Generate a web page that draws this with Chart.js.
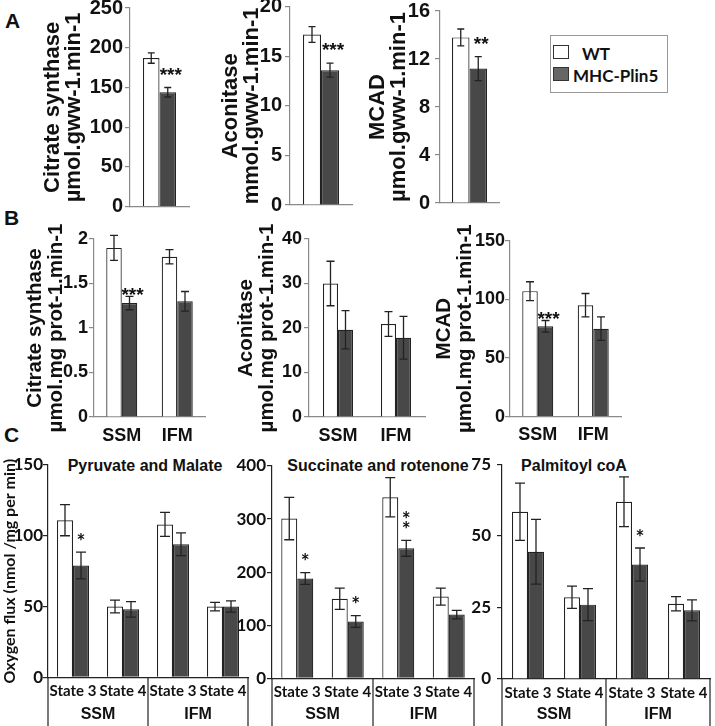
<!DOCTYPE html>
<html>
<head>
<meta charset="utf-8">
<script src="https://cdn.jsdelivr.net/npm/chart.js@4.4.1/dist/chart.umd.min.js"></script>
<style>
  body { margin: 0; background: #fff; }
  #wrap { position: relative; width: 715px; height: 726px; overflow: hidden; background: #fff; }
  #wrap canvas { position: absolute; }
  .txt { position: absolute; font-weight: bold; color: #111; white-space: nowrap; line-height: 1; }
  .panel { font-family: "Liberation Sans", Arial, sans-serif; font-size: 21px; }
  .ctitle { font-family: "Liberation Sans", Arial, sans-serif; font-size: 16px; transform: translate(-50%, -50%); }
  .leg { position: absolute; left: 550px; top: 35px; width: 116px; height: 56px; border: 1px solid #999; }
  .sw { position: absolute; width: 14px; height: 12px; border: 1px solid #333; }
  .legtxt { font-family: Lato, sans-serif; font-size: 17px; transform: translateY(-50%); }
</style>
</head>
<body>
<div id="wrap">
  <div class="txt panel" style="left:5px;top:10px">A</div>
  <div class="txt panel" style="left:4px;top:207px">B</div>
  <div class="txt panel" style="left:4px;top:424px">C</div>

  <div class="leg"></div>
  <div class="sw" style="left:553px;top:45px;background:#fff"></div>
  <div class="sw" style="left:553px;top:67px;background:#666"></div>
  <div class="txt legtxt" id="legWT" style="left:582px;top:53px"></div>
  <div class="txt legtxt" id="legTG" style="left:573px;top:75px"></div>

  <div class="txt ctitle" style="left:145px;top:466px">Pyruvate and Malate</div>
  <div class="txt ctitle" style="left:378px;top:466px">Succinate and rotenone</div>
  <div class="txt ctitle" style="left:574px;top:466px">Palmitoyl coA</div>
</div>

<script>
// series
const seriesNames = ['WT', 'MHC-Plin5'];

// A: activities per g wet weight
const catsA = [''];
const csA_wt = [187], csA_wtErr = [6.5], csA_tg = [144], csA_tgErr = [6], csA_sig = ['***'];
const acoA_wt = [17.2], acoA_wtErr = [0.8], acoA_tg = [13.6], acoA_tgErr = [0.7], acoA_sig = ['***'];
const mcadA_wt = [13.8], mcadA_wtErr = [0.7], mcadA_tg = [11.2], mcadA_tgErr = [1.0], mcadA_sig = ['**'];

// B: activities per mg mito protein
const catsB = ['SSM', 'IFM'];
const csB_wt = [1.90, 1.80], csB_wtErr = [0.14, 0.08], csB_tg = [1.28, 1.30], csB_tgErr = [0.075, 0.11], csB_sig = ['***', ''];
const acoB_wt = [30, 20.9], acoB_wtErr = [5, 2.8], acoB_tg = [19.6, 17.8], acoB_tgErr = [4.3, 4.8], acoB_sig = ['', ''];
const mcadB_wt = [107, 95], mcadB_wtErr = [8, 10], mcadB_tg = [77, 75], mcadB_tgErr = [5, 10], mcadB_sig = ['***', ''];

// C: oxygen flux
const catsC = ['State 3', 'State 4', 'State 3', 'State 4'];
const groupsC = ['SSM', 'IFM'];
const pmC_wt = [111, 50, 108, 50], pmC_wtErr = [11, 4.5, 8.5, 3], pmC_tg = [79, 48, 94, 50], pmC_tgErr = [9.5, 5.5, 8, 4], pmC_sig = ['*', '', '', ''];
const srC_wt = [301, 150, 341, 154], srC_wtErr = [40, 20, 37, 16], srC_tg = [188, 107, 245, 120], srC_tgErr = [11, 11, 15, 8], srC_sig = ['*', '*', '*\n*', ''];
const paC_wt = [58.5, 28.6, 62, 26.3], paC_wtErr = [10, 3.9, 8.7, 2.5], paC_tg = [44.5, 26, 40, 24], paC_tgErr = [11.3, 5.6, 5.8, 3.7], paC_sig = ['', '', '*', ''];

document.getElementById('legWT').textContent = seriesNames[0];
document.getElementById('legTG').textContent = seriesNames[1];

const errorBars = {
  id: 'errorBars',
  afterDatasetsDraw(chart, args, opts) {
    const ctx = chart.ctx, y = chart.scales.y;
    ctx.save();
    ctx.strokeStyle = '#222';
    ctx.lineWidth = 1.3;
    chart.data.datasets.forEach((ds, i) => {
      chart.getDatasetMeta(i).data.forEach((bar, j) => {
        const top = y.getPixelForValue(ds.data[j] + ds.err[j]);
        const bot = y.getPixelForValue(ds.data[j] - ds.err[j]);
        const c = opts.cap;
        ctx.beginPath();
        ctx.moveTo(bar.x, top); ctx.lineTo(bar.x, bot);
        ctx.moveTo(bar.x - c, top); ctx.lineTo(bar.x + c, top);
        ctx.moveTo(bar.x - c, bot); ctx.lineTo(bar.x + c, bot);
        ctx.stroke();
      });
    });
    ctx.restore();
  }
};

const sigMarks = {
  id: 'sigMarks',
  afterDatasetsDraw(chart, args, opts) {
    const ds = chart.data.datasets[1];
    const meta = chart.getDatasetMeta(1);
    const ctx = chart.ctx, y = chart.scales.y;
    ctx.save();
    ctx.fillStyle = '#111';
    ctx.font = opts.font;
    ctx.textAlign = 'center';
    ctx.textBaseline = 'middle';
    ds.sig.forEach((s, j) => {
      if (!s) return;
      const bar = meta.data[j];
      const top = y.getPixelForValue(ds.data[j] + ds.err[j]);
      const lines = s.split('\n');
      lines.forEach((ln, k) => {
        ctx.fillText(ln, bar.x + opts.dx, top - opts.gap - (lines.length - 1 - k) * opts.step);
      });
    });
    ctx.restore();
  }
};

// two-level category axis for panel C
const groupAxis = {
  id: 'groupAxis',
  afterDraw(chart, args, opts) {
    if (!opts.groups) return;
    const ctx = chart.ctx, x = chart.scales.x;
    const {left, right, bottom} = chart.chartArea;
    const n = chart.data.labels.length / opts.groups.length;
    const edges = [left];
    for (let g = 1; g < opts.groups.length; g++) {
      edges.push((x.getPixelForValue(g * n - 1) + x.getPixelForValue(g * n)) / 2);
    }
    edges.push(right);
    ctx.save();
    ctx.strokeStyle = '#222';
    ctx.lineWidth = 1.2;
    ctx.beginPath();
    edges.forEach(e => { ctx.moveTo(e, bottom); ctx.lineTo(e, bottom + opts.lineLen); });
    ctx.stroke();
    ctx.fillStyle = '#111';
    ctx.font = opts.font;
    ctx.textAlign = 'center';
    ctx.textBaseline = 'middle';
    opts.groups.forEach((g, i) => ctx.fillText(g, (edges[i] + edges[i + 1]) / 2, bottom + opts.labelDy));
    ctx.restore();
  }
};

const wrap = document.getElementById('wrap');
const fmt = v => String(Math.round(v * 100) / 100);

function makeBar(o) {
  const [l, t, r, b] = o.area;
  const x0 = o.left, y0 = Math.floor(t - 32);
  const w = Math.ceil(r + 8 - x0), h = Math.ceil(b + o.xHeight - y0);
  const cv = document.createElement('canvas');
  cv.width = w; cv.height = h;
  cv.style.left = x0 + 'px';
  cv.style.top = y0 + 'px';
  wrap.appendChild(cv);

  const titleLH = o.titleFont ? o.titleFont.size * o.titleFont.lineHeight : 0;

  new Chart(cv, {
    type: 'bar',
    data: {
      labels: o.labels,
      datasets: [
        { label: seriesNames[0], data: o.wt, err: o.wtErr, backgroundColor: '#ffffff', borderColor: '#222', borderWidth: 1.2 },
        { label: seriesNames[1], data: o.tg, err: o.tgErr, sig: o.sig, backgroundColor: '#484848', borderColor: '#222', borderWidth: 1.2 }
      ]
    },
    options: {
      responsive: false,
      animation: false,
      layout: { padding: { left: 0, top: t - y0, right: x0 + w - r, bottom: 0 } },
      datasets: { bar: { categoryPercentage: o.catPct, barPercentage: 1 } },
      plugins: {
        legend: { display: false },
        tooltip: { enabled: false },
        errorBars: { cap: o.cap },
        sigMarks: o.sigOpts,
        groupAxis: o.groupOpts || {}
      },
      scales: {
        x: {
          grid: { display: false, drawTicks: false },
          border: { display: true, color: o.axisColor, width: 1.2 },
          ticks: { display: o.showX, font: o.xFont, color: '#111', padding: o.xPad, maxRotation: 0, autoSkip: false },
          afterFit: s => { s.height = y0 + h - b; }
        },
        y: {
          min: 0, max: o.max,
          ticks: { stepSize: o.step, font: o.tickFont, color: '#111', callback: fmt,
                   padding: l - o.tickRight - 5 },
          grid: { drawOnChartArea: false, drawTicks: true, tickLength: 5, color: o.axisColor, lineWidth: 1.2 },
          border: { display: true, color: o.axisColor, width: 1.2 },
          title: {
            display: !!o.title,
            text: o.title,
            font: o.titleFont,
            color: '#111',
            padding: { top: o.title ? (o.titleX - x0 - titleLH / 2) : 0, bottom: 0 }
          },
          afterFit: s => { s.width = l - x0; }
        }
      }
    },
    plugins: [errorBars, sigMarks, groupAxis]
  });
}

const LS = '"Liberation Sans", Arial, sans-serif';
const grey = '#8a8a8a';
const tickA = { family: LS, weight: 'bold', size: 20 };
const tickB = { family: LS, weight: 'bold', size: 18 };
const titleA = { family: LS, weight: 'bold', size: 22, lineHeight: 0.96 };
const titleB = { family: LS, weight: 'bold', size: 20.5, lineHeight: 1.05 };
const sigAB = (gap) => ({ font: 'bold 19px ' + LS, dx: 3, gap: gap, step: 10 });
const sigC = { font: 'bold 21px Lato', dx: 0, gap: 10, step: 10 };

// row A
makeBar({ area: [130, 8, 189, 206.7], left: 20, xHeight: 14, labels: catsA,
  wt: csA_wt, wtErr: csA_wtErr, tg: csA_tg, tgErr: csA_tgErr, sig: csA_sig,
  max: 250, step: 50, catPct: 33 / 59, cap: 3.5, axisColor: grey, showX: false,
  tickFont: tickA, tickRight: 123, title: ['Citrate synthase', 'µmol.gww-1.min-1'], titleFont: titleA, titleX: 53,
  sigOpts: sigAB(12) });
makeBar({ area: [290, 6.7, 352, 206], left: 200, xHeight: 14, labels: catsA,
  wt: acoA_wt, wtErr: acoA_wtErr, tg: acoA_tg, tgErr: acoA_tgErr, sig: acoA_sig,
  max: 20, step: 5, catPct: 36 / 62, cap: 3.5, axisColor: grey, showX: false,
  tickFont: tickA, tickRight: 282, title: ['Aconitase', 'mmol.gww-1.min-1'], titleFont: titleA, titleX: 231,
  sigOpts: sigAB(12) });
makeBar({ area: [440, 11, 499, 206], left: 350, xHeight: 14, labels: catsA,
  wt: mcadA_wt, wtErr: mcadA_wtErr, tg: mcadA_tg, tgErr: mcadA_tgErr, sig: mcadA_sig,
  max: 16, step: 4, catPct: 35 / 59, cap: 3.5, axisColor: grey, showX: false,
  tickFont: tickA, tickRight: 430, title: ['MCAD', 'µmol.gww-1.min-1'], titleFont: titleA, titleX: 378,
  sigOpts: sigAB(12) });

// row B
makeBar({ area: [94, 239, 205, 417], left: 0, xHeight: 34, labels: catsB,
  wt: csB_wt, wtErr: csB_wtErr, tg: csB_tg, tgErr: csB_tgErr, sig: csB_sig,
  max: 2, step: 0.5, catPct: 31 / 55.5, cap: 4, axisColor: grey, showX: true, xFont: tickB, xPad: 8,
  tickFont: tickB, tickRight: 88, title: ['Citrate synthase', 'µmol.mg prot-1.min-1'], titleFont: titleB, titleX: 35,
  sigOpts: sigAB(1) });
makeBar({ area: [309, 239, 425, 417], left: 215, xHeight: 34, labels: catsB,
  wt: acoB_wt, wtErr: acoB_wtErr, tg: acoB_tg, tgErr: acoB_tgErr, sig: acoB_sig,
  max: 40, step: 10, catPct: 30 / 58, cap: 4, axisColor: grey, showX: true, xFont: tickB, xPad: 8,
  tickFont: tickB, tickRight: 302, title: ['Aconitase', 'µmol.mg prot-1.min-1'], titleFont: titleB, titleX: 246,
  sigOpts: sigAB(1) });
makeBar({ area: [510, 240.7, 621, 416.7], left: 420, xHeight: 34, labels: catsB,
  wt: mcadB_wt, wtErr: mcadB_wtErr, tg: mcadB_tg, tgErr: mcadB_tgErr, sig: mcadB_sig,
  max: 150, step: 50, catPct: 31 / 55.5, cap: 4, axisColor: grey, showX: true, xFont: tickB, xPad: 8,
  tickFont: tickB, tickRight: 505, title: ['MCAD', 'µmol.mg prot-1.min-1'], titleFont: titleB, titleX: 444,
  sigOpts: sigAB(1) });

// row C
const tickC = { family: 'Lato', weight: 'bold', size: 17 };
const stateFont = { family: 'Lato', weight: 'bold', size: 15 };
const groupC = (b) => ({ groups: groupsC, font: 'bold 16px ' + LS, lineLen: 726 - b, labelDy: 715 - b });
makeBar({ area: [48, 465, 248, 677.3], left: 0, xHeight: 726 - 677.3, labels: catsC,
  wt: pmC_wt, wtErr: pmC_wtErr, tg: pmC_tg, tgErr: pmC_tgErr, sig: pmC_sig,
  max: 150, step: 50, catPct: 32 / 50, cap: 5, axisColor: '#222', showX: true, xFont: stateFont, xPad: 5,
  tickFont: tickC, tickRight: 43, title: 'Oxygen flux (nmol /mg per min)',
  titleFont: { family: 'Lato', weight: 'bold', size: 16, lineHeight: 1.2 }, titleX: 10,
  sigOpts: sigC, groupOpts: groupC(677.3) });
makeBar({ area: [272, 466, 474, 678.3], left: 230, xHeight: 726 - 678.3, labels: catsC,
  wt: srC_wt, wtErr: srC_wtErr, tg: srC_tg, tgErr: srC_tgErr, sig: srC_sig,
  max: 400, step: 100, catPct: 32 / 50.5, cap: 5, axisColor: '#222', showX: true, xFont: stateFont, xPad: 5,
  tickFont: tickC, tickRight: 266,
  sigOpts: sigC, groupOpts: groupC(678.3) });
makeBar({ area: [502, 464.5, 710, 679], left: 460, xHeight: 726 - 679, labels: catsC,
  wt: paC_wt, wtErr: paC_wtErr, tg: paC_tg, tgErr: paC_tgErr, sig: paC_sig,
  max: 75, step: 25, catPct: 32 / 52, cap: 5, axisColor: '#222', showX: true, xFont: stateFont, xPad: 5,
  tickFont: tickC, tickRight: 491,
  sigOpts: sigC, groupOpts: groupC(679) });
</script>
</body>
</html>
